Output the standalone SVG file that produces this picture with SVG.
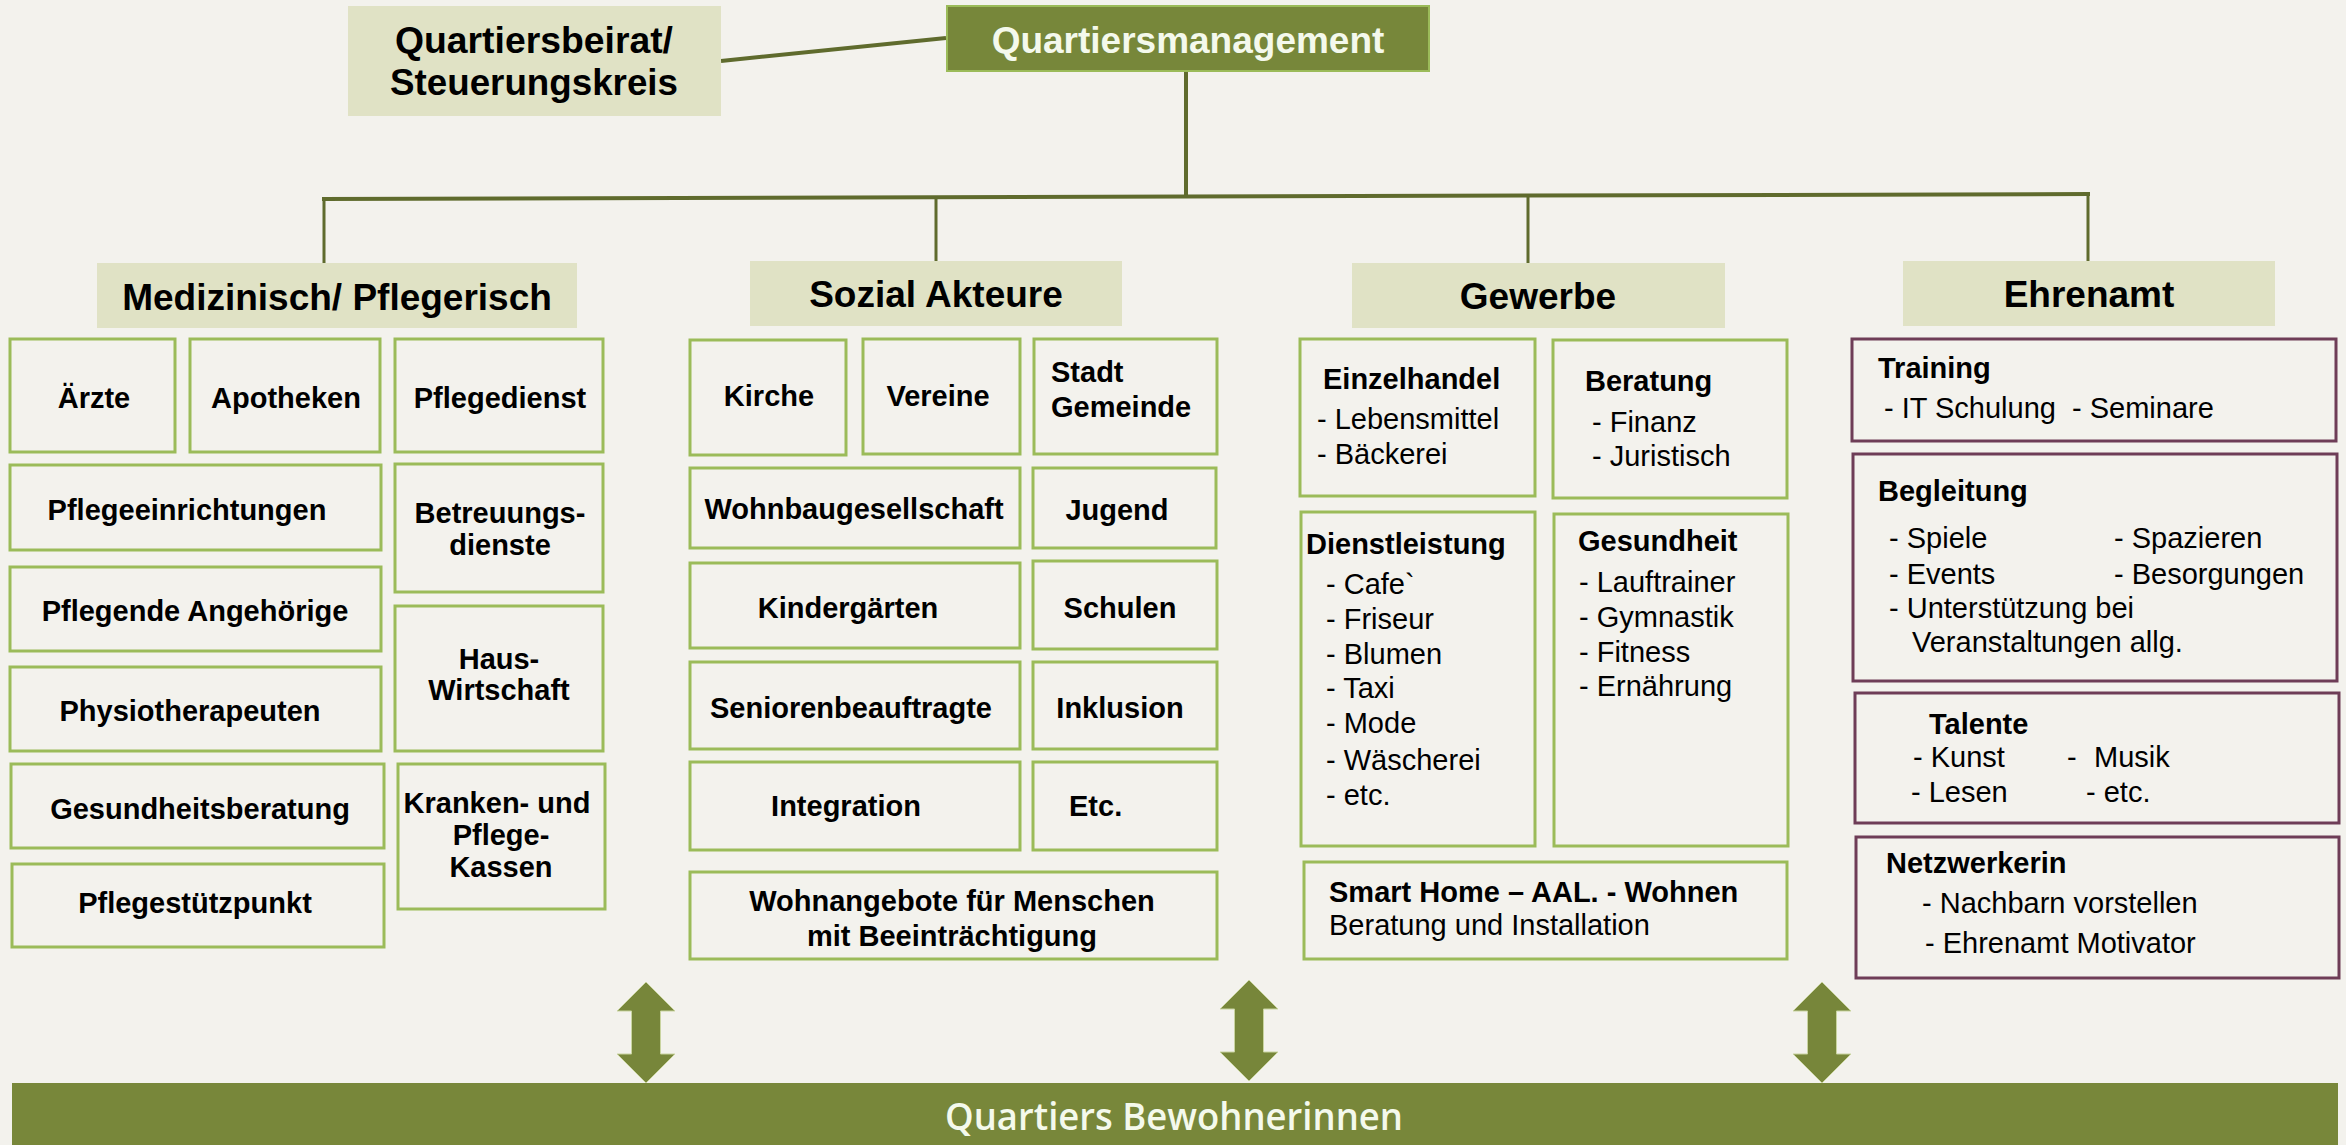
<svg xmlns="http://www.w3.org/2000/svg" width="2346" height="1145" viewBox="0 0 2346 1145">
  <style>
    text { font-family: "Liberation Sans", Arial, sans-serif; fill: #000; }
    .hd { font-size: 37px; font-weight: bold; text-anchor: middle; }
    .b { font-size: 29px; font-weight: bold; }
    .r { font-size: 29px; }
    .c { text-anchor: middle; }
    .head { fill: #e0e2c5; }
    .gbox { fill: none; stroke: #9bbb59; stroke-width: 3; }
    .mbox { fill: none; stroke: #6e3d57; stroke-width: 3; }
    .link { stroke: #5f6b2d; fill: none; }
    .arrow { fill: #77863a; stroke: #c9d4a0; stroke-width: 1; }
  </style>

  <rect x="0" y="0" width="2346" height="1145" fill="#f3f2ed"/>

  <!-- connectors -->
  <g id="connectors">
    <line class="link" x1="721" y1="61" x2="946" y2="38" stroke-width="4"/>
    <line class="link" x1="1186" y1="71" x2="1186" y2="197" stroke-width="4"/>
    <line class="link" x1="322" y1="199" x2="2090" y2="194" stroke-width="4"/>
    <line class="link" x1="324" y1="199" x2="324" y2="263" stroke-width="3"/>
    <line class="link" x1="936" y1="198" x2="936" y2="261" stroke-width="3"/>
    <line class="link" x1="1528" y1="196" x2="1528" y2="263" stroke-width="3"/>
    <line class="link" x1="2088" y1="194" x2="2088" y2="261" stroke-width="3"/>
    <!-- double arrows to the residents bar -->
    <polygon class="arrow" points="646,982 675,1011 660.5,1011 660.5,1054 675,1054 646,1083 617,1054 631.5,1054 631.5,1011 617,1011"/>
    <polygon class="arrow" points="1249,980 1278,1009 1263.5,1009 1263.5,1052 1278,1052 1249,1081 1220,1052 1234.5,1052 1234.5,1009 1220,1009"/>
    <polygon class="arrow" points="1822,982 1851,1011 1836.5,1011 1836.5,1054 1851,1054 1822,1083 1793,1054 1807.5,1054 1807.5,1011 1793,1011"/>
  </g>

  <!-- top level -->
  <g id="quartiersbeirat">
    <rect class="head" x="348" y="6" width="373" height="110"/>
    <text class="hd" x="534" y="53" textLength="278" lengthAdjust="spacingAndGlyphs">Quartiersbeirat/</text>
    <text class="hd" x="534" y="95" textLength="288" lengthAdjust="spacingAndGlyphs">Steuerungskreis</text>
  </g>
  <g id="quartiersmanagement">
    <rect x="947" y="6" width="482" height="65" fill="#77873a" stroke="#9bbb59" stroke-width="2"/>
    <text class="hd" x="1188" y="53" style="fill:#f4f9ec">Quartiersmanagement</text>
  </g>

  <!-- Medizinisch / Pflegerisch -->
  <g id="medizinisch">
    <rect class="head" x="97" y="263" width="480" height="65"/>
    <text class="hd" x="337" y="310">Medizinisch/ Pflegerisch</text>
  </g>
  <g id="aerzte"><rect class="gbox" x="10" y="339" width="165" height="113"/><text class="b c" x="94" y="408">Ärzte</text></g>
  <g id="apotheken"><rect class="gbox" x="190" y="339" width="190" height="113"/><text class="b c" x="286" y="408">Apotheken</text></g>
  <g id="pflegedienst"><rect class="gbox" x="395" y="339" width="208" height="113"/><text class="b c" x="500" y="408">Pflegedienst</text></g>
  <g id="pflegeeinrichtungen"><rect class="gbox" x="10" y="465" width="371" height="85"/><text class="b c" x="187" y="520">Pflegeeinrichtungen</text></g>
  <g id="betreuungsdienste"><rect class="gbox" x="395" y="464" width="208" height="128"/><text class="b c" x="500" y="523">Betreuungs-</text><text class="b c" x="500" y="555">dienste</text></g>
  <g id="angehoerige"><rect class="gbox" x="10" y="567" width="371" height="84"/><text class="b c" x="195" y="621">Pflegende Angehörige</text></g>
  <g id="hauswirtschaft"><rect class="gbox" x="395" y="606" width="208" height="145"/><text class="b c" x="499" y="669">Haus-</text><text class="b c" x="499" y="700">Wirtschaft</text></g>
  <g id="physiotherapeuten"><rect class="gbox" x="10" y="667" width="371" height="84"/><text class="b c" x="190" y="721">Physiotherapeuten</text></g>
  <g id="gesundheitsberatung"><rect class="gbox" x="11" y="764" width="373" height="84"/><text class="b c" x="200" y="819">Gesundheitsberatung</text></g>
  <g id="kassen"><rect class="gbox" x="398" y="764" width="207" height="145"/><text class="b c" x="497" y="813">Kranken- und</text><text class="b c" x="501" y="845">Pflege-</text><text class="b c" x="501" y="877">Kassen</text></g>
  <g id="pflegestuetzpunkt"><rect class="gbox" x="12" y="864" width="372" height="83"/><text class="b c" x="195" y="913">Pflegestützpunkt</text></g>

  <!-- Sozial Akteure -->
  <g id="sozial">
    <rect class="head" x="750" y="261" width="372" height="65"/>
    <text class="hd" x="936" y="307">Sozial Akteure</text>
  </g>
  <g id="kirche"><rect class="gbox" x="690" y="340" width="156" height="115"/><text class="b c" x="769" y="406">Kirche</text></g>
  <g id="vereine"><rect class="gbox" x="863" y="339" width="157" height="115"/><text class="b c" x="938" y="406">Vereine</text></g>
  <g id="stadt"><rect class="gbox" x="1034" y="339" width="183" height="115"/><text class="b" x="1051" y="382">Stadt</text><text class="b" x="1051" y="417">Gemeinde</text></g>
  <g id="wohnbau"><rect class="gbox" x="690" y="468" width="330" height="80"/><text class="b c" x="854" y="519">Wohnbaugesellschaft</text></g>
  <g id="jugend"><rect class="gbox" x="1033" y="468" width="183" height="80"/><text class="b c" x="1117" y="520">Jugend</text></g>
  <g id="kindergaerten"><rect class="gbox" x="690" y="563" width="330" height="85"/><text class="b c" x="848" y="618">Kindergärten</text></g>
  <g id="schulen"><rect class="gbox" x="1033" y="561" width="184" height="88"/><text class="b c" x="1120" y="618">Schulen</text></g>
  <g id="senioren"><rect class="gbox" x="690" y="662" width="330" height="87"/><text class="b c" x="851" y="718">Seniorenbeauftragte</text></g>
  <g id="inklusion"><rect class="gbox" x="1033" y="662" width="184" height="87"/><text class="b c" x="1120" y="718">Inklusion</text></g>
  <g id="integration"><rect class="gbox" x="690" y="762" width="330" height="88"/><text class="b c" x="846" y="816">Integration</text></g>
  <g id="etc"><rect class="gbox" x="1033" y="762" width="184" height="88"/><text class="b" x="1069" y="816">Etc.</text></g>
  <g id="wohnangebote"><rect class="gbox" x="690" y="872" width="527" height="87"/><text class="b c" x="952" y="911">Wohnangebote für Menschen</text><text class="b c" x="952" y="946">mit Beeinträchtigung</text></g>

  <!-- Gewerbe -->
  <g id="gewerbe">
    <rect class="head" x="1352" y="263" width="373" height="65"/>
    <text class="hd" x="1538" y="309">Gewerbe</text>
  </g>
  <g id="einzelhandel">
    <rect class="gbox" x="1300" y="339" width="235" height="157"/>
    <text class="b" x="1323" y="389">Einzelhandel</text>
    <text class="r" x="1317" y="429">- Lebensmittel</text>
    <text class="r" x="1317" y="464">- Bäckerei</text>
  </g>
  <g id="beratung">
    <rect class="gbox" x="1553" y="340" width="234" height="158"/>
    <text class="b" x="1585" y="391">Beratung</text>
    <text class="r" x="1592" y="432">- Finanz</text>
    <text class="r" x="1592" y="466">- Juristisch</text>
  </g>
  <g id="dienstleistung">
    <rect class="gbox" x="1301" y="512" width="234" height="334"/>
    <text class="b" x="1306" y="554">Dienstleistung</text>
    <text class="r" x="1326" y="594">- Cafe`</text>
    <text class="r" x="1326" y="629">- Friseur</text>
    <text class="r" x="1326" y="664">- Blumen</text>
    <text class="r" x="1326" y="698">- Taxi</text>
    <text class="r" x="1326" y="733">- Mode</text>
    <text class="r" x="1326" y="770">- Wäscherei</text>
    <text class="r" x="1326" y="805">- etc.</text>
  </g>
  <g id="gesundheit">
    <rect class="gbox" x="1554" y="514" width="234" height="332"/>
    <text class="b" x="1578" y="551">Gesundheit</text>
    <text class="r" x="1579" y="592">- Lauftrainer</text>
    <text class="r" x="1579" y="627">- Gymnastik</text>
    <text class="r" x="1579" y="662">- Fitness</text>
    <text class="r" x="1579" y="696">- Ernährung</text>
  </g>
  <g id="smarthome">
    <rect class="gbox" x="1304" y="862" width="483" height="97"/>
    <text class="b" x="1329" y="902">Smart Home – AAL. - Wohnen</text>
    <text class="r" x="1329" y="935">Beratung und Installation</text>
  </g>

  <!-- Ehrenamt -->
  <g id="ehrenamt">
    <rect class="head" x="1903" y="261" width="372" height="65"/>
    <text class="hd" x="2089" y="307">Ehrenamt</text>
  </g>
  <g id="training">
    <rect class="mbox" x="1852" y="339" width="484" height="102"/>
    <text class="b" x="1878" y="378">Training</text>
    <text class="r" x="1884" y="418">- IT Schulung</text>
    <text class="r" x="2072" y="418">- Seminare</text>
  </g>
  <g id="begleitung">
    <rect class="mbox" x="1853" y="454" width="484" height="227"/>
    <text class="b" x="1878" y="501">Begleitung</text>
    <text class="r" x="1889" y="548">- Spiele</text>
    <text class="r" x="2114" y="548">- Spazieren</text>
    <text class="r" x="1889" y="584">- Events</text>
    <text class="r" x="2114" y="584">- Besorgungen</text>
    <text class="r" x="1889" y="618">- Unterstützung bei</text>
    <text class="r" x="1912" y="652">Veranstaltungen allg.</text>
  </g>
  <g id="talente">
    <rect class="mbox" x="1855" y="693" width="484" height="130"/>
    <text class="b" x="1929" y="734">Talente</text>
    <text class="r" x="1913" y="767">- Kunst</text>
    <text class="r" x="2067" y="767">-<tspan x="2094">Musik</tspan></text>
    <text class="r" x="1911" y="802">- Lesen</text>
    <text class="r" x="2086" y="802">- etc.</text>
  </g>
  <g id="netzwerkerin">
    <rect class="mbox" x="1856" y="837" width="483" height="141"/>
    <text class="b" x="1886" y="873">Netzwerkerin</text>
    <text class="r" x="1922" y="913">- Nachbarn vorstellen</text>
    <text class="r" x="1925" y="953">- Ehrenamt Motivator</text>
  </g>

  <!-- residents bar -->
  <g id="bewohnerinnen">
    <rect x="12" y="1083" width="2326" height="62" fill="#78873a"/>
    <text x="1174" y="1130" text-anchor="middle" textLength="458" lengthAdjust="spacingAndGlyphs" style="font-family:'Open Sans','Noto Sans',sans-serif;font-weight:600;font-size:37px;fill:#f4f9ec">Quartiers Bewohnerinnen</text>
  </g>
</svg>
